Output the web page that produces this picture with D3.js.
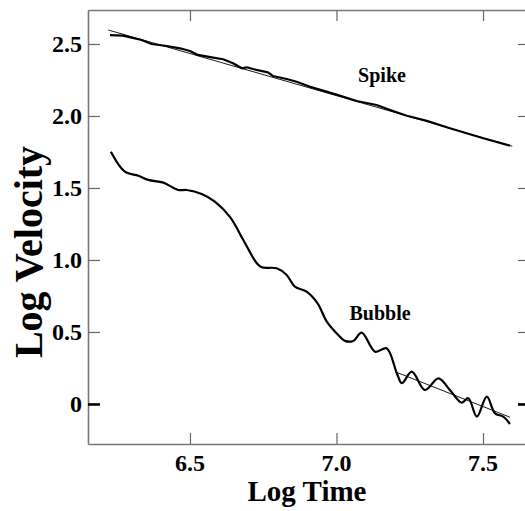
<!DOCTYPE html>
<html>
<head>
<meta charset="utf-8">
<script src="https://cdn.jsdelivr.net/npm/d3@7"></script>
<style>
  body { margin: 0; background: #fff; }
  text { font-family: "Liberation Serif", "Times New Roman", serif; font-weight: bold; }
  .curve { fill: none; stroke: #000; stroke-width: 2.2; stroke-linejoin: round; }
  .fit { fill: none; stroke: #000; stroke-width: 0.9; }
</style>
</head>
<body>
<div class="container"></div>
<script>
// log time / log velocity
const spikeT = [6.227, 6.271, 6.335, 6.369, 6.421, 6.466, 6.500, 6.527, 6.579, 6.613, 6.647, 6.677, 6.694, 6.715, 6.766, 6.783, 6.830, 6.864, 6.910, 6.954, 7.005, 7.069, 7.137, 7.183, 7.240, 7.308, 7.376, 7.444, 7.501, 7.592];
const spikeV = [2.562, 2.558, 2.528, 2.500, 2.486, 2.470, 2.451, 2.424, 2.405, 2.394, 2.366, 2.331, 2.338, 2.326, 2.303, 2.278, 2.257, 2.238, 2.203, 2.176, 2.146, 2.104, 2.076, 2.042, 2.002, 1.967, 1.922, 1.880, 1.845, 1.794];

const bubbleT = [6.230, 6.278, 6.324, 6.358, 6.409, 6.460, 6.489, 6.540, 6.585, 6.637, 6.682, 6.728, 6.745, 6.796, 6.830, 6.858, 6.898, 6.935, 6.967, 7.006, 7.029, 7.057, 7.086, 7.132, 7.171, 7.206, 7.223, 7.257, 7.302, 7.348, 7.387, 7.427, 7.450, 7.479, 7.513, 7.541, 7.569, 7.592];
const bubbleV = [1.752, 1.613, 1.585, 1.556, 1.537, 1.486, 1.486, 1.458, 1.405, 1.297, 1.139, 0.977, 0.949, 0.942, 0.896, 0.815, 0.780, 0.700, 0.572, 0.479, 0.438, 0.438, 0.495, 0.363, 0.387, 0.213, 0.144, 0.224, 0.097, 0.178, 0.097, 0.009, 0.040, -0.088, 0.051, -0.065, -0.088, -0.139];

// straight line fits: [t0, t1], [v0, v1]
const spikeFitT = [6.221, 7.600];
const spikeFitV = [2.597, 1.790];
const bubbleFitT = [7.200, 7.592];
const bubbleFitV = [0.224, -0.092];

const xTicks = [6.5, 7.0, 7.5];
const xTickLabels = ["6.5", "7.0", "7.5"];
const yTicks = [0, 0.5, 1.0, 1.5, 2.0, 2.5];
const yTickLabels = ["0", "0.5", "1.0", "1.5", "2.0", "2.5"];

const WIDTH = 525, HEIGHT = 511;
const LEFT = 88, RIGHT = 529, TOP = 10, BOTTOM = 444;

var svg = d3.select('.container').append('svg')
    .attr('width', WIDTH)
    .attr('height', HEIGHT);

var xScale = d3.scaleLinear().domain([6.152, 7.657]).range([LEFT, RIGHT]);
var yScale = d3.scaleLinear().domain([-0.278, 2.736]).range([BOTTOM, TOP]);

var styleAxis = function (g) {
    g.select('.domain').attr('stroke', '#777').attr('stroke-width', 1.6);
    g.selectAll('.tick line').attr('stroke', '#666').attr('stroke-width', 1.2);
    g.selectAll('.tick text').remove();
};

// frame: bottom/left carry labels, top/right only ticks
svg.append('g').attr('transform', 'translate(0,' + BOTTOM + ')')
    .call(d3.axisBottom(xScale).tickValues(xTicks).tickSize(-11).tickSizeOuter(0))
    .call(styleAxis);
svg.append('g').attr('transform', 'translate(0,' + TOP + ')')
    .call(d3.axisTop(xScale).tickValues(xTicks).tickSize(-11).tickSizeOuter(0))
    .call(styleAxis);
svg.append('g').attr('transform', 'translate(' + LEFT + ',0)')
    .call(d3.axisLeft(yScale).tickValues(yTicks).tickSize(-12).tickSizeOuter(0))
    .call(styleAxis);
svg.append('g').attr('transform', 'translate(' + RIGHT + ',0)')
    .call(d3.axisRight(yScale).tickValues(yTicks).tickSize(-11).tickSizeOuter(0))
    .call(styleAxis);

// zero tick is drawn heavier
svg.selectAll('.tick').filter(function (d) { return d === 0; })
    .select('line').attr('stroke', '#000').attr('stroke-width', 2.6);

svg.selectAll('.xlab').data(xTicks).enter().append('text')
    .attr('x', function (d) { return xScale(d); })
    .attr('y', 471)
    .attr('text-anchor', 'middle')
    .attr('font-size', 24)
    .text(function (d, i) { return xTickLabels[i]; });

svg.selectAll('.ylab').data(yTicks).enter().append('text')
    .attr('x', 82)
    .attr('y', function (d) { return yScale(d) + 8; })
    .attr('text-anchor', 'end')
    .attr('font-size', 24)
    .text(function (d, i) { return yTickLabels[i]; });

svg.append('text')
    .attr('x', 307).attr('y', 501)
    .attr('text-anchor', 'middle')
    .attr('font-size', 29)
    .text('Log Time');

svg.append('text')
    .attr('transform', 'translate(42,252) rotate(-90)')
    .attr('text-anchor', 'middle')
    .attr('font-size', 40)
    .text('Log Velocity');

var line = d3.line()
    .x(function (d) { return xScale(d[0]); })
    .y(function (d) { return yScale(d[1]); });

var smooth = d3.line()
    .curve(d3.curveCatmullRom.alpha(0.5))
    .x(function (d) { return xScale(d[0]); })
    .y(function (d) { return yScale(d[1]); });

svg.append('path').attr('class', 'fit').attr('d', line(d3.zip(spikeFitT, spikeFitV)));
svg.append('path').attr('class', 'fit').attr('d', line(d3.zip(bubbleFitT, bubbleFitV)));
svg.append('path').attr('class', 'curve').attr('d', line(d3.zip(spikeT, spikeV)));
svg.append('path').attr('class', 'curve').attr('d', smooth(d3.zip(bubbleT, bubbleV)));

svg.append('text').attr('x', 382).attr('y', 82)
    .attr('text-anchor', 'middle').attr('font-size', 20).text('Spike');
svg.append('text').attr('x', 380).attr('y', 320)
    .attr('text-anchor', 'middle').attr('font-size', 20).text('Bubble');
</script>
</body>
</html>
